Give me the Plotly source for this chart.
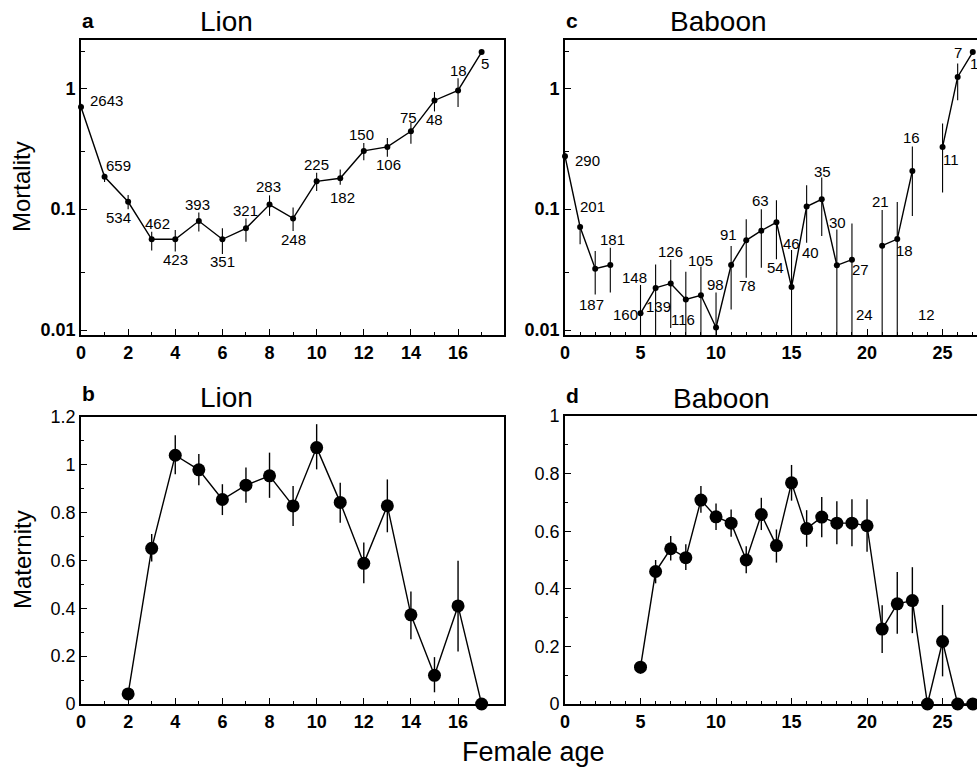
import numpy as np
import plotly.graph_objects as go

# ---------------- data ----------------
lion_age = list(range(0, 18))
lion_mort = [0.70, 0.185, 0.115, 0.0563, 0.0563, 0.0797, 0.0563, 0.0694, 0.109, 0.0838,
             0.170, 0.180, 0.303, 0.327, 0.440, 0.792, 0.96, 1.99]
lion_mort_hi = [0.743, 0.196, 0.131, 0.0651, 0.0672, 0.094, 0.0694, 0.0837, 0.130, 0.103,
                0.200, 0.213, 0.353, 0.388, 0.516, 0.93, 1.21, 1.99]
lion_mort_lo = [0.655, 0.168, 0.100, 0.0455, 0.0446, 0.0652, 0.0426, 0.0538, 0.088, 0.066,
                0.141, 0.159, 0.254, 0.271, 0.348, 0.643, 0.698, 1.99]
lion_n = [2643, 659, 534, 462, 423, 393, 351, 321, 283, 248, 225, 182, 150, 106, 75, 48, 18, 5]

lion_mat_age = list(range(2, 18))
lion_mat = [0.042, 0.651, 1.040, 0.979, 0.855, 0.915, 0.954, 0.828, 1.072, 0.843,
            0.588, 0.829, 0.373, 0.120, 0.410, 0.0]
lion_mat_hi = [0.042, 0.711, 1.124, 1.045, 0.919, 0.989, 1.051, 0.911, 1.170, 0.925,
               0.675, 0.939, 0.470, 0.196, 0.599, 0.0]
lion_mat_lo = [0.042, 0.596, 0.961, 0.915, 0.790, 0.841, 0.862, 0.744, 0.981, 0.758,
               0.505, 0.718, 0.271, 0.049, 0.220, 0.0]

bab_age = list(range(0, 28))
bab_mort = [0.274, 0.0712, 0.0322, 0.0345, 0.0, 0.01374, 0.0223, 0.0243, 0.0179, 0.0194,
            0.0105, 0.0345, 0.0552, 0.0664, 0.0778, 0.0227, 0.105, 0.1205, 0.0343, 0.0382,
            0.0, 0.0499, 0.0566, 0.207, 0.0, 0.327, 1.24, 1.99]
bab_mort_hi = [0.294, 0.0749, 0.0451, 0.048, 0.0, 0.0236, 0.0349, 0.0382, 0.0304, 0.0336,
               0.0204, 0.0496, 0.0824, 0.0997, 0.1183, 0.0459, 0.1575, 0.1823, 0.0677, 0.0759,
               0.0, 0.0984, 0.1147, 0.329, 0.0, 0.510, 1.60, 1.99]
bab_mort_lo = [0.258, 0.0512, 0.0197, 0.0204, 0.0, 0.0, 0.0, 0.0104, 0.0, 0.0,
               0.0, 0.0148, 0.0271, 0.0328, 0.0385, 0.0, 0.0528, 0.060, 0.0, 0.0,
               0.0, 0.0, 0.0, 0.0878, 0.0, 0.137, 0.796, 1.99]
bab_n = [290, 201, 187, 181, 160, 148, 139, 126, 116, 105, 98, 91, 78, 63, 54, 46, 40, 35,
         30, 27, 24, 21, 18, 16, 12, 11, 7, 1]

bab_mat_age = list(range(5, 28))
bab_mat = [0.128, 0.460, 0.539, 0.508, 0.708, 0.650, 0.628, 0.500, 0.658, 0.550, 0.768,
           0.609, 0.649, 0.628, 0.628, 0.619, 0.260, 0.348, 0.359, 0.0, 0.217, 0.0, 0.0]
bab_mat_hi = [0.142, 0.500, 0.583, 0.555, 0.757, 0.696, 0.675, 0.548, 0.716, 0.606, 0.830,
              0.673, 0.719, 0.704, 0.711, 0.711, 0.343, 0.458, 0.475, 0.0, 0.344, 0.0, 0.0]
bab_mat_lo = [0.105, 0.419, 0.498, 0.465, 0.664, 0.604, 0.581, 0.454, 0.604, 0.491, 0.706,
              0.546, 0.579, 0.555, 0.548, 0.529, 0.177, 0.244, 0.246, 0.0, 0.096, 0.0, 0.0]

# ---------------- styling ----------------
FONT = "Liberation Sans, Arial, Helvetica, sans-serif"
W, H = 977, 769
LOG_RANGE = [-2.041, 0.399]
YMIN = 10 ** LOG_RANGE[0]

# label offsets in pixels (dx right, dy down) for the sample-size labels
lion_off = [(25, -6), (14, -11), (-10, 16), (6, -16), (0, 20), (-1, -17), (0, 22), (0, -18),
            (-1, -18), (0, 21), (0, -17), (2, 19), (-2, -16), (1, 18), (-2, -14), (0, 19),
            (0, -20), (3, 11)]
bab_off = [(22, 4), (12, -20), (-4, 36), (2, -26), (0, -10), (-6, -36), (3, 19), (0, -32),
           (-3, 20), (0, -35), (-1, -43), (-3, -31), (1, 45), (-1, -30), (-1, 45), (0, -44),
           (4, 46), (1, -28), (1, -43), (9, 10), (-3, -10), (-2, -44), (7, 11), (-1, -33),
           (-1, -10), (8, 13), (0, -24), (1, 11)]


def err_arrays(v, hi, lo, floor=None):
    up = [h - x for x, h in zip(v, hi)]
    if floor is None:
        dn = [x - l for x, l in zip(v, lo)]
    else:
        dn = [(x - max(l, floor)) if x > 0 else 0 for x, l in zip(v, lo)]
    return up, dn


def log_safe(vals):
    # zero mortality cannot be shown on a log axis: leave a gap in the line
    return [v if v > 0 else None for v in vals]


fig = go.Figure()

# a: lion mortality
up, dn = err_arrays(lion_mort, lion_mort_hi, lion_mort_lo, YMIN)
fig.add_trace(go.Scatter(
    x=lion_age, y=log_safe(lion_mort), mode="lines+markers", xaxis="x", yaxis="y",
    line=dict(color="black", width=1.4), marker=dict(color="black", size=6),
    error_y=dict(type="data", symmetric=False, array=up, arrayminus=dn,
                 color="black", thickness=1.1, width=0),
    cliponaxis=False, showlegend=False))

# b: lion maternity
up, dn = err_arrays(lion_mat, lion_mat_hi, lion_mat_lo)
fig.add_trace(go.Scatter(
    x=lion_mat_age, y=lion_mat, mode="lines+markers", xaxis="x2", yaxis="y2",
    line=dict(color="black", width=1.4), marker=dict(color="black", size=13),
    error_y=dict(type="data", symmetric=False, array=up, arrayminus=dn,
                 color="black", thickness=1.4, width=0),
    cliponaxis=False, showlegend=False))

# c: baboon mortality (zeros break the line on the log axis)
up, dn = err_arrays(bab_mort, bab_mort_hi, bab_mort_lo, YMIN)
fig.add_trace(go.Scatter(
    x=bab_age, y=log_safe(bab_mort), mode="lines+markers", xaxis="x3", yaxis="y3",
    line=dict(color="black", width=1.4), marker=dict(color="black", size=6),
    error_y=dict(type="data", symmetric=False, array=up, arrayminus=dn,
                 color="black", thickness=1.1, width=0),
    connectgaps=False, cliponaxis=False, showlegend=False))

# d: baboon maternity
up, dn = err_arrays(bab_mat, bab_mat_hi, bab_mat_lo)
fig.add_trace(go.Scatter(
    x=bab_mat_age, y=bab_mat, mode="lines+markers", xaxis="x4", yaxis="y4",
    line=dict(color="black", width=1.4), marker=dict(color="black", size=13),
    error_y=dict(type="data", symmetric=False, array=up, arrayminus=dn,
                 color="black", thickness=1.4, width=0),
    cliponaxis=False, showlegend=False))

annotations = []
lab_font = dict(family=FONT, size=15, color="black")
for a, v, n, (dx, dy) in zip(lion_age, lion_mort, lion_n, lion_off):
    annotations.append(dict(x=a, y=np.log10(v), xref="x", yref="y", text=str(n),
                            showarrow=False, xshift=dx, yshift=-dy, font=lab_font))
for a, v, n, (dx, dy) in zip(bab_age, bab_mort, bab_n, bab_off):
    if v > 0:
        annotations.append(dict(x=a, y=np.log10(v), xref="x3", yref="y3", text=str(n),
                                showarrow=False, xshift=dx, yshift=-dy, font=lab_font))
    else:
        annotations.append(dict(x=a, y=0, xref="x3", yref="y3 domain", text=str(n),
                                showarrow=False, xshift=dx, yshift=-dy, font=lab_font))

# panel letters and titles
for letter, px, py in [("a", 88, 20), ("b", 88, 393), ("c", 572, 20), ("d", 572, 395)]:
    annotations.append(dict(x=px / W, y=1 - py / H, xref="paper", yref="paper", text=letter,
                            showarrow=False, xanchor="center", yanchor="middle",
                            font=dict(family=FONT, size=21, color="black", weight="bold")))
for title, px, py in [("Lion", 226, 22), ("Lion", 226, 397), ("Baboon", 718, 22), ("Baboon", 721, 398)]:
    annotations.append(dict(x=px / W, y=1 - py / H, xref="paper", yref="paper", text=title,
                            showarrow=False, xanchor="center", yanchor="middle",
                            font=dict(family=FONT, size=28, color="black")))
annotations.append(dict(x=22 / W, y=1 - 187 / H, xref="paper", yref="paper", text="Mortality",
                        textangle=-90, showarrow=False, xanchor="center", yanchor="middle",
                        font=dict(family=FONT, size=24, color="black")))
annotations.append(dict(x=22 / W, y=1 - 560 / H, xref="paper", yref="paper", text="Maternity",
                        textangle=-90, showarrow=False, xanchor="center", yanchor="middle",
                        font=dict(family=FONT, size=24, color="black")))
annotations.append(dict(x=533 / W, y=1 - 752 / H, xref="paper", yref="paper", text="Female age",
                        showarrow=False, xanchor="center", yanchor="middle",
                        font=dict(family=FONT, size=27, color="black")))

tick_bold = dict(family=FONT, size=18, color="black", weight="bold")
tick_reg = dict(family=FONT, size=18, color="black")
common = dict(showgrid=False, zeroline=False, showline=True, linecolor="black", linewidth=1.8,
              ticks="inside", tickcolor="black", tickwidth=1.2, ticklen=6, automargin=False)

xa_dom = [81 / W, 504 / W]
xc_dom = [565 / W, 1.0]
ytop_dom = [1 - 335 / H, 1 - 40 / H]
ybot_dom = [1 - 704 / H, 1 - 417 / H]
XA_RANGE = [0, 17.95]
XC_RANGE = [0, 27.28]

fig.update_layout(
    template="none",
    width=W, height=H, margin=dict(l=0, r=0, t=0, b=0, pad=0),
    paper_bgcolor="white", plot_bgcolor="white",
    xaxis=dict(domain=xa_dom, anchor="y", range=XA_RANGE, dtick=2, tick0=0, mirror=True,
               tickfont=tick_bold, minor=dict(dtick=1, ticks="inside", ticklen=3, tickcolor="black"),
               **common),
    yaxis=dict(domain=ytop_dom, anchor="x", type="log", range=LOG_RANGE, mirror=True,
               tickmode="array", tickvals=[0.01, 0.1, 1], ticktext=["0.01", "0.1", "1"],
               tickfont=tick_bold,
               minor=dict(tickmode="array", tickvals=[0.03, 0.3, 2], ticks="inside", ticklen=4,
                          tickcolor="black"),
               **common),
    xaxis2=dict(domain=xa_dom, anchor="y2", range=XA_RANGE, dtick=2, tick0=0, mirror=True,
                tickfont=tick_bold, minor=dict(dtick=1, ticks="inside", ticklen=3, tickcolor="black"),
                **common),
    yaxis2=dict(domain=ybot_dom, anchor="x2", range=[0, 1.2], dtick=0.2, tick0=0, mirror=True,
                tickfont=tick_reg, minor=dict(dtick=0.1, ticks="inside", ticklen=3, tickcolor="black"),
                **common),
    xaxis3=dict(domain=xc_dom, anchor="y3", range=XC_RANGE, dtick=5, tick0=0, mirror=True,
                tickfont=tick_bold, minor=dict(dtick=1, ticks="inside", ticklen=3, tickcolor="black"),
                **common),
    yaxis3=dict(domain=ytop_dom, anchor="x3", type="log", range=LOG_RANGE, mirror=False,
                tickmode="array", tickvals=[0.01, 0.1, 1], ticktext=["0.01", "0.1", "1"],
                tickfont=tick_bold,
                minor=dict(tickmode="array", tickvals=[0.03, 0.3, 2], ticks="inside", ticklen=4,
                           tickcolor="black"),
                **common),
    xaxis4=dict(domain=xc_dom, anchor="y4", range=XC_RANGE, dtick=5, tick0=0, mirror=True,
                tickfont=tick_bold, minor=dict(dtick=1, ticks="inside", ticklen=3, tickcolor="black"),
                **common),
    yaxis4=dict(domain=[1 - 704 / H, 1 - 416 / H], anchor="x4", range=[0, 1], dtick=0.2, tick0=0,
                mirror=False, tickfont=tick_reg,
                minor=dict(dtick=0.1, ticks="inside", ticklen=3, tickcolor="black"),
                **common),
    annotations=annotations,
)

fig.write_html("out.html", config={"displayModeBar": False},
               post_script="document.body.style.margin='0';document.body.style.overflow='hidden';")
